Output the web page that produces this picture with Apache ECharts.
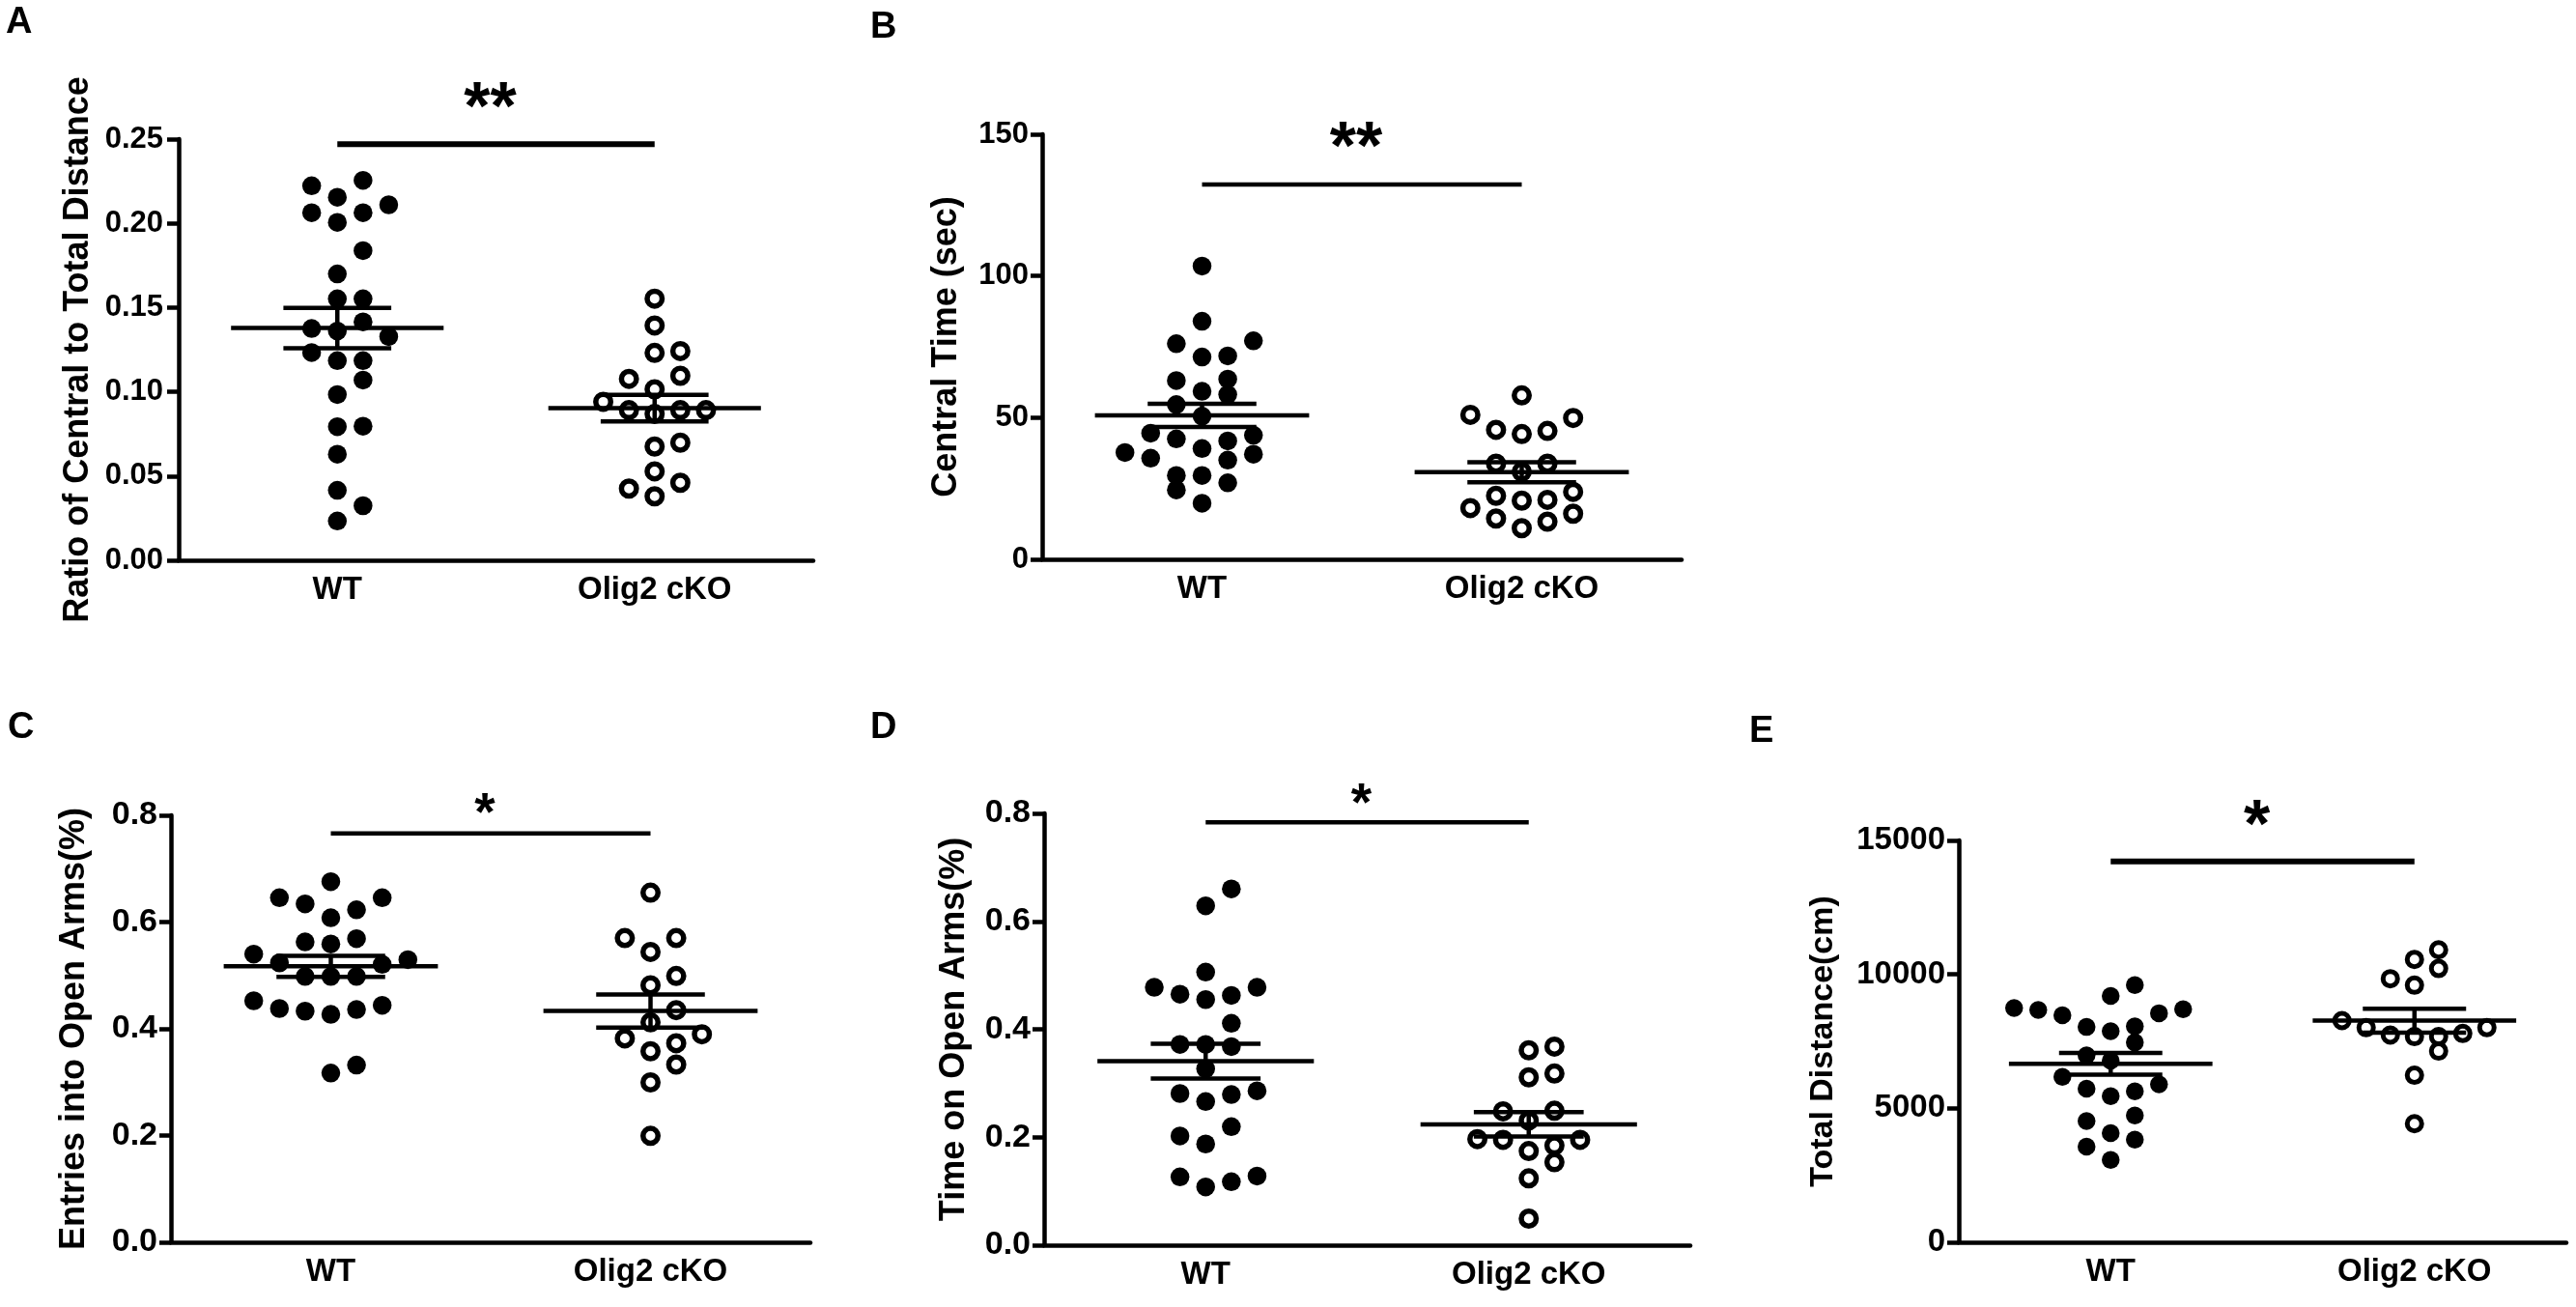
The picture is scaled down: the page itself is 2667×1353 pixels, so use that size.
<!DOCTYPE html>
<html><head><meta charset="utf-8">
<script src="https://cdn.jsdelivr.net/npm/echarts@6/dist/echarts.min.js"></script>
<style>html,body{margin:0;padding:0;background:#fff;} #c{width:2667px;height:1353px;}</style>
</head><body><div id="c"></div>
<script>
// ---------------- DATA ----------------
const categories = ['WT', 'Olig2 cKO'];

// A: Ratio of central to total distance
const ratioWT = [0.2255, 0.2223, 0.211, 0.2155, 0.2063, 0.2063, 0.2006, 0.1838, 0.170, 0.1552, 0.1552, 0.1415, 0.1376, 0.1328, 0.1361, 0.1233, 0.1185, 0.1185, 0.1070, 0.0984, 0.0793, 0.0796, 0.063, 0.0415, 0.0324, 0.0233];
const ratioKO = [0.1553, 0.1394, 0.1231, 0.1242, 0.1077, 0.1095, 0.1015, 0.0941, 0.0891, 0.0868, 0.0891, 0.0891, 0.0698, 0.0675, 0.0528, 0.046, 0.0426, 0.038];
// B: Central time (sec)
const centralWT = [103.5, 84.0, 77.1, 76.1, 71.4, 71.8, 63.1, 63.6, 59.3, 58.2, 54.6, 50.5, 44.5, 43.8, 42.5, 41.8, 37.7, 39.1, 35.7, 37.1, 35.0, 29.6, 29.6, 27.0, 24.5, 19.8];
const centralKO = [57.85, 49.9, 51.0, 45.3, 44.2, 45.7, 33.75, 33.75, 30.9, 23.8, 21.0, 20.7, 22.4, 18.1, 14.4, 11.0, 13.3, 16.1];
// C: Entries into open arms
const entriesWT = [0.6757, 0.6456, 0.634, 0.6456, 0.623, 0.608, 0.569, 0.5628, 0.559, 0.540, 0.5235, 0.5206, 0.5296, 0.498, 0.498, 0.498, 0.4525, 0.438, 0.433, 0.427, 0.436, 0.444, 0.332, 0.317];
const entriesKO = [0.655, 0.570, 0.570, 0.544, 0.499, 0.4816, 0.435, 0.412, 0.382, 0.373, 0.3898, 0.358, 0.333, 0.2995, 0.1994];
// D: Time on open arms
const timeOpenWT = [0.660, 0.6287, 0.506, 0.4777, 0.465, 0.4628, 0.4777, 0.455, 0.411, 0.372, 0.368, 0.372, 0.327, 0.281, 0.266, 0.279, 0.286, 0.2195, 0.2024, 0.1875, 0.1265, 0.128, 0.1176, 0.108];
const timeOpenKO = [0.361, 0.368, 0.311, 0.318, 0.231, 0.249, 0.248, 0.1953, 0.1846, 0.1953, 0.1744, 0.1966, 0.1537, 0.1238, 0.0493];
// E: Total distance (cm)
const distWT = [9600, 9195, 8700, 8550, 8745, 8475, 8670, 8059, 7879, 8037, 7460, 6978, 6776, 6174, 5897, 5731, 5454, 5634, 4528, 4733, 3833, 4074, 3570, 3076];
const distKO = [10918, 10220, 10558, 9838, 9597, 8011, 7795, 7676, 8275, 7676, 7735, 8011, 7136, 6236, 4425];

const ratioTicks = [0, 0.05, 0.10, 0.15, 0.20, 0.25];
const centralTicks = [0, 50, 100, 150];
const entriesTicks = [0, 0.2, 0.4, 0.6, 0.8];
const timeOpenTicks = [0, 0.2, 0.4, 0.6, 0.8];
const distTicks = [0, 5000, 10000, 15000];

const sigLevels = [0.247, 132.3, 0.766, 0.7835, 14220];
const sigStars = ['**', '**', '*', '*', '*'];
const yTitles = ['Ratio of Central to Total Distance', 'Central Time (sec)', 'Entries into Open Arms(%)', 'Time on Open Arms(%)', 'Total Distance(cm)'];
const panelLetters = ['A', 'B', 'C', 'D', 'E'];

// ---------------- LAYOUT / STYLE ----------------
const FONT = '"Liberation Sans", Arial, Helvetica, sans-serif';
const layout = [
  {grid:{left:185, top:144, width:657, height:436}, dec:2, tickFont:31, titleFont:36, nameGap:86, labelMargin:16, starFont:70, starDy:35, sigW:6, dot:19.5, ring:15.5, ringW:5.5, step:26.6, letter:[6,5]},
  {grid:{left:1079, top:139, width:662, height:440}, dec:0, tickFont:31, titleFont:36, nameGap:81, labelMargin:14, starFont:70, starDy:35, sigW:4.5, dot:19.5, ring:15.5, ringW:5.5, step:26.6, letter:[901,10]},
  {grid:{left:177, top:844, width:662, height:442}, dec:1, tickFont:34, titleFont:36, nameGap:82, labelMargin:14, starFont:55, starDy:19, sigW:4.5, dot:19.5, ring:15.5, ringW:5.5, step:26.6, letter:[8,735]},
  {grid:{left:1081, top:842, width:669, height:447}, dec:1, tickFont:34, titleFont:36, nameGap:75, labelMargin:14, starFont:55, starDy:17, sigW:4.5, dot:19.5, ring:15.5, ringW:5.5, step:26.6, letter:[901,735]},
  {grid:{left:2028, top:870, width:629, height:416}, dec:0, tickFont:33, titleFont:34, nameGap:123, labelMargin:14, starFont:70, starDy:34, sigW:6, dot:18.5, ring:15, ringW:5, step:25, letter:[1811,739]}
];
const BIN_PX = 25;
const LINE_W = 4.5;

const groups = [
  [ratioWT, ratioKO, ratioTicks],
  [centralWT, centralKO, centralTicks],
  [entriesWT, entriesKO, entriesTicks],
  [timeOpenWT, timeOpenKO, timeOpenTicks],
  [distWT, distKO, distTicks]
];

function meanSem(a) {
  const n = a.length; const m = a.reduce((s, v) => s + v, 0) / n;
  const sd = Math.sqrt(a.reduce((s, v) => s + (v - m) * (v - m), 0) / (n - 1));
  return [m, sd / Math.sqrt(n)];
}

// Prism-like row binning: bottom-up bins, points spread outer-to-inner
function swarm(vals, pxPerUnit, stepPx) {
  const idx = vals.map((v, i) => i).sort((a, b) => vals[a] - vals[b]);
  const off = new Array(vals.length).fill(0);
  let i = 0;
  while (i < idx.length) {
    const start = vals[idx[i]];
    let j = i;
    while (j < idx.length && (vals[idx[j]] - start) * pxPerUnit <= BIN_PX) j++;
    const bin = idx.slice(i, j).sort((a, b) => vals[b] - vals[a]);
    const n = bin.length;
    const startRight = n <= 4;
    let lo, hi;
    if (n % 2 === 1) { lo = -(n - 1) / 2; hi = (n - 1) / 2; }
    else if (startRight) { lo = -(n / 2 - 1); hi = n / 2; }
    else { lo = -n / 2; hi = n / 2 - 1; }
    let right = startRight;
    for (const k of bin) { off[k] = right ? hi-- : lo++; right = !right; }
    i = j;
  }
  return off.map(o => o * stepPx);
}

const grids = [], xAxes = [], yAxes = [], series = [], graphics = [];
groups.forEach((g, p) => {
  const [wt, ko, ticks] = g;
  const L = layout[p];
  const min = ticks[0], max = ticks[ticks.length - 1], interval = ticks[1] - ticks[0];
  const pxPerUnit = L.grid.height / (max - min);
  grids.push(L.grid);
  xAxes.push({
    type: 'category', gridIndex: p, data: categories, boundaryGap: true,
    axisLine: {lineStyle: {color: '#000', width: 4.5}}, axisTick: {show: false},
    axisLabel: {color: '#000', fontWeight: 'bold', fontFamily: FONT, fontSize: 33, margin: 14}
  });
  yAxes.push({
    type: 'value', gridIndex: p, min: min, max: max, interval: interval,
    axisLine: {show: true, lineStyle: {color: '#000', width: 4.5}},
    axisTick: {show: true, length: 12, lineStyle: {color: '#000', width: 4.5}},
    splitLine: {show: false},
    axisLabel: {color: '#000', fontWeight: 'bold', fontFamily: FONT, fontSize: L.tickFont, margin: L.labelMargin,
      formatter: v => v.toFixed(L.dec)},
    name: yTitles[p], nameLocation: 'middle', nameGap: L.nameGap, nameRotate: 90,
    nameTextStyle: {color: '#000', fontWeight: 'bold', fontFamily: FONT, fontSize: L.titleFont, lineHeight: L.titleFont}
  });
  const offWT = swarm(wt, pxPerUnit, L.step);
  const offKO = swarm(ko, pxPerUnit, L.step);
  series.push({
    type: 'scatter', xAxisIndex: p, yAxisIndex: p, symbol: 'circle', symbolSize: L.dot,
    itemStyle: {color: '#000', opacity: 1}, silent: true,
    data: wt.map((v, i) => ({value: [categories[0], v], symbolOffset: [offWT[i], 0]}))
  });
  series.push({
    type: 'scatter', xAxisIndex: p, yAxisIndex: p, symbol: 'circle', symbolSize: L.ring,
    itemStyle: {color: 'rgba(255,255,255,0)', borderColor: '#000', borderWidth: L.ringW, opacity: 1}, silent: true,
    data: ko.map((v, i) => ({value: [categories[1], v], symbolOffset: [offKO[i], 0]}))
  });
  const msW = meanSem(wt), msK = meanSem(ko);
  series.push({
    type: 'custom', xAxisIndex: p, yAxisIndex: p, silent: true, clip: false, z: 5,
    data: [[0, msW[0], msW[1]], [1, msK[0], msK[1]]],
    encode: {x: 0, y: 1},
    renderItem: function (params, api) {
      const x = api.value(0), m = api.value(1), s = api.value(2);
      const c = api.coord([x, m]), t = api.coord([x, m + s]), b = api.coord([x, m - s]);
      const band = api.size([1, 0])[0];
      const st = {stroke: '#000', lineWidth: LINE_W};
      return {type: 'group', children: [
        {type: 'line', shape: {x1: c[0] - 0.335 * band, y1: c[1], x2: c[0] + 0.335 * band, y2: c[1]}, style: st},
        {type: 'line', shape: {x1: c[0] - 0.17 * band, y1: t[1], x2: c[0] + 0.17 * band, y2: t[1]}, style: st},
        {type: 'line', shape: {x1: c[0] - 0.17 * band, y1: b[1], x2: c[0] + 0.17 * band, y2: b[1]}, style: st},
        {type: 'line', shape: {x1: c[0], y1: t[1], x2: c[0], y2: b[1]}, style: st}
      ]};
    }
  });
  series.push({
    type: 'custom', xAxisIndex: p, yAxisIndex: p, silent: true, clip: false, z: 5,
    data: [[0, sigLevels[p]]],
    encode: {x: 0, y: 1},
    renderItem: function (params, api) {
      const lv = api.value(1);
      const p0 = api.coord([0, lv]), p1 = api.coord([1, lv]);
      return {type: 'group', children: [
        {type: 'line', shape: {x1: p0[0], y1: p0[1], x2: p1[0], y2: p1[1]}, style: {stroke: '#000', lineWidth: L.sigW}},
        {type: 'text', style: {text: sigStars[p], x: (p0[0] + p1[0]) / 2 - 6, y: p0[1] - L.starDy,
          fill: '#000', font: 'bold ' + L.starFont + 'px ' + FONT, textAlign: 'center', textVerticalAlign: 'middle', verticalAlign: 'middle'}}
      ]};
    }
  });
  graphics.push({type: 'text', x: L.letter[0], y: L.letter[1], silent: true,
    style: {text: panelLetters[p], fill: '#000', font: 'bold 38px ' + FONT, textVerticalAlign: 'top', verticalAlign: 'top'}});
});

const chart = echarts.init(document.getElementById('c'), null, {renderer: 'canvas'});
chart.setOption({
  animation: false, backgroundColor: '#fff',
  grid: grids, xAxis: xAxes, yAxis: yAxes, series: series, graphic: graphics
});
</script></body></html>
